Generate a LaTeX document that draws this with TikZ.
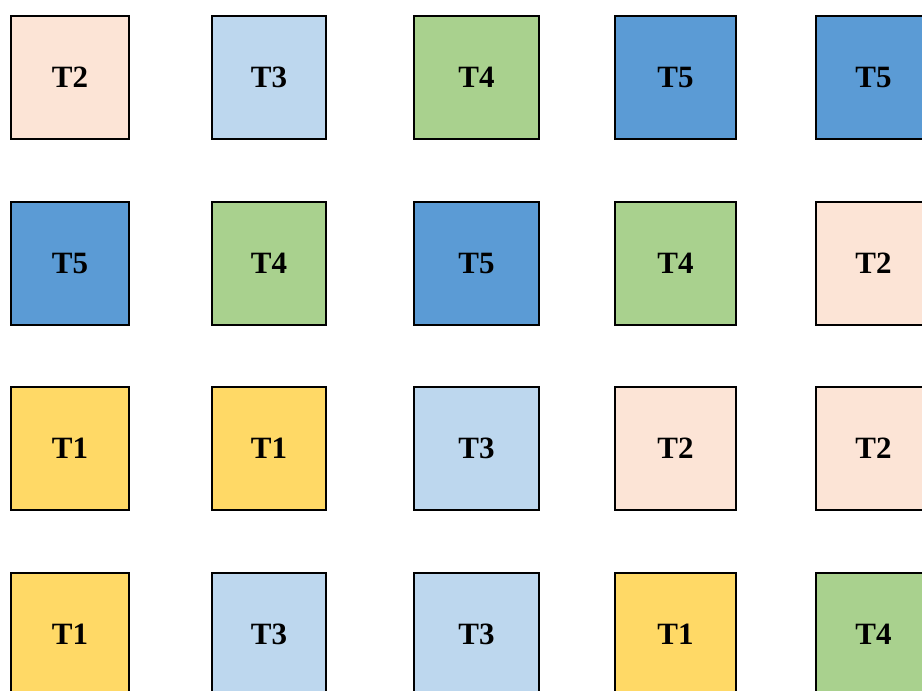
\documentclass[tikz,border=0pt]{standalone}
\usepackage{fontspec}
\setmainfont{Liberation Serif}
\usepackage{xcolor}

\definecolor{tpeach}{HTML}{FCE4D6}
\definecolor{tlblue}{HTML}{BDD7EE}
\definecolor{tgreen}{HTML}{A9D18E}
\definecolor{tblue}{HTML}{5B9BD5}
\definecolor{tyellow}{HTML}{FFD966}

\tikzset{
  tile/.style={rectangle, draw=black, line width=1.6pt, inner sep=0pt,
    minimum height=123pt, font=\fontsize{31}{31}\selectfont\bfseries},
  ta/.style={tile, fill=tyellow},
  tb/.style={tile, fill=tpeach},
  tc/.style={tile, fill=tlblue},
  td/.style={tile, fill=tgreen},
  te/.style={tile, fill=tblue}
}

\begin{document}
\begin{tikzpicture}[x=1pt, y=-1pt]
\useasboundingbox (0,0) rectangle (922,691);
\clip (0,0) rectangle (922,691);

% row 1
\node[tb, minimum width=118pt] (r1c1) at (70,77.5) {T2};
\node[tc, minimum width=114pt] (r1c2) at (269,77.5) {T3};
\node[td, minimum width=125pt] (r1c3) at (476.5,77.5) {T4};
\node[te, minimum width=121pt] (r1c4) at (675.5,77.5) {T5};
\node[te, minimum width=115pt] (r1c5) at (873.5,77.5) {T5};

% row 2
\node[te, minimum width=118pt] (r2c1) at (70,263.5) {T5};
\node[td, minimum width=114pt] (r2c2) at (269,263.5) {T4};
\node[te, minimum width=125pt] (r2c3) at (476.5,263.5) {T5};
\node[td, minimum width=121pt] (r2c4) at (675.5,263.5) {T4};
\node[tb, minimum width=115pt] (r2c5) at (873.5,263.5) {T2};

% row 3
\node[ta, minimum width=118pt] (r3c1) at (70,448.5) {T1};
\node[ta, minimum width=114pt] (r3c2) at (269,448.5) {T1};
\node[tc, minimum width=125pt] (r3c3) at (476.5,448.5) {T3};
\node[tb, minimum width=121pt] (r3c4) at (675.5,448.5) {T2};
\node[tb, minimum width=115pt] (r3c5) at (873.5,448.5) {T2};

% row 4
\node[ta, minimum width=118pt] (r4c1) at (70,634.5) {T1};
\node[tc, minimum width=114pt] (r4c2) at (269,634.5) {T3};
\node[tc, minimum width=125pt] (r4c3) at (476.5,634.5) {T3};
\node[ta, minimum width=121pt] (r4c4) at (675.5,634.5) {T1};
\node[td, minimum width=115pt] (r4c5) at (873.5,634.5) {T4};
\end{tikzpicture}
\end{document}
